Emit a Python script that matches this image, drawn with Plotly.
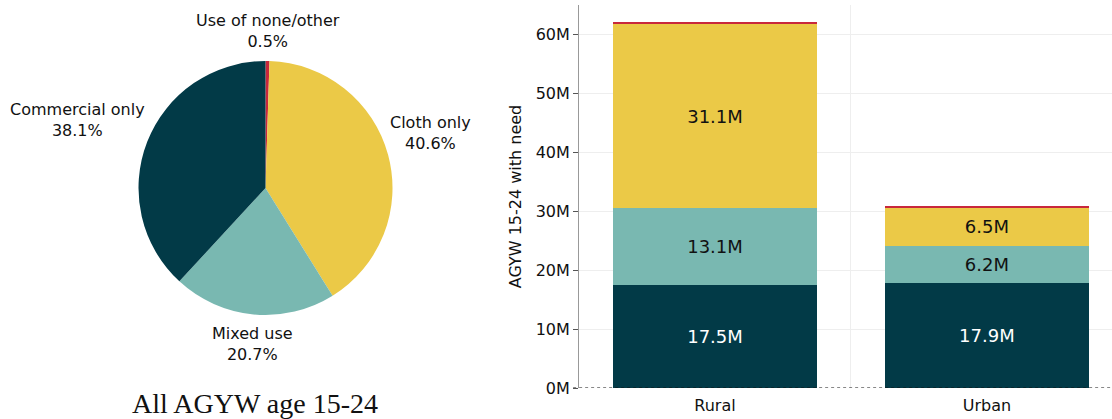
import math
import plotly.graph_objects as go

# Overall shares (%) of AGYW aged 15-24 by menstrual material used
pie_labels = ["Use of none/other", "Cloth only", "Mixed use", "Commercial only"]
pie_shares = [0.5, 40.6, 20.7, 38.1]

# AGYW aged 15-24 with need (millions), by residence
areas = ["Rural", "Urban"]
commercial_only = [17.5, 17.9]
mixed_use = [13.1, 6.2]
cloth_only = [31.1, 6.5]
none_other = [0.35, 0.3]

DARK = "#023a47"
TEAL = "#79b8b1"
YELLOW = "#ebc947"
RED = "#c8283c"
FONT = "DejaVu Sans, Verdana, sans-serif"
SERIF = "Liberation Serif, Times New Roman, serif"

W, H = 1112, 419
# pie geometry in pixels
PIE_CX, PIE_CY, PIE_R = 265.5, 188.0, 127.0

fig = go.Figure()

fig.add_trace(go.Pie(
    labels=pie_labels,
    values=pie_shares,
    sort=False,
    direction="clockwise",
    rotation=0,
    marker=dict(colors=[RED, YELLOW, TEAL, DARK], line=dict(width=0)),
    textinfo="none",
    showlegend=False,
    hoverinfo="label+value",
    domain=dict(x=[(PIE_CX - PIE_R) / W, (PIE_CX + PIE_R) / W],
                y=[1 - (PIE_CY + PIE_R) / H, 1 - (PIE_CY - PIE_R) / H]),
))

# Slice labels placed just outside the rim, along each slice's mid-angle
annotations = []
total = sum(pie_shares)
cum = 0.0
for lab, v in zip(pie_labels, pie_shares):
    mid = (cum + v / 2) / total * 2 * math.pi
    cum += v
    dx, dy = math.sin(mid), -math.cos(mid)  # screen direction (y down)
    gap = -1 + 9 * dy * dy
    px = PIE_CX + dx * (PIE_R + gap)
    py = PIE_CY + dy * (PIE_R + gap)
    xanchor = "left" if dx > 0.5 else ("right" if dx < -0.5 else "center")
    yanchor = "top" if dy > 0.5 else "bottom"
    annotations.append(dict(
        text=f"{lab}<br>{v / total * 100:.1f}%",
        x=px / W, y=1 - py / H, xref="paper", yref="paper",
        xanchor=xanchor, yanchor=yanchor, align="center", showarrow=False,
        font=dict(family=FONT, size=16, color="#111111"),
    ))

annotations.append(dict(
    text="All AGYW age 15-24", x=254.5 / W, y=1 - 403 / H, xref="paper", yref="paper",
    xanchor="center", yanchor="middle", showarrow=False,
    font=dict(family=SERIF, size=28, color="#111111"),
))

bar_series = [
    ("Commercial only", commercial_only, DARK, "white", True),
    ("Mixed use", mixed_use, TEAL, "#111111", True),
    ("Cloth only", cloth_only, YELLOW, "#111111", True),
    ("Use of none/other", none_other, RED, "#111111", False),
]
for name, vals, color, tcolor, show_text in bar_series:
    fig.add_trace(go.Bar(
        x=areas,
        y=vals,
        name=name,
        marker=dict(color=color, line=dict(width=0)),
        text=[f"{v:.1f}M" for v in vals] if show_text else None,
        textposition="inside" if show_text else "none",
        insidetextanchor="middle",
        textfont=dict(family=FONT, size=18, color=tcolor),
        showlegend=False,
        xaxis="x",
        yaxis="y",
    ))

fig.update_layout(
    width=W,
    height=H,
    margin=dict(l=0, r=0, t=0, b=0, autoexpand=False),
    paper_bgcolor="white",
    plot_bgcolor="white",
    barmode="stack",
    bargap=0.25,
    font=dict(family=FONT, size=16, color="#111111"),
    uniformtext=dict(mode=False),
    xaxis=dict(
        domain=[579 / W, 1.0],
        range=[-0.5, 1.46],
        tickson="boundaries",
        showgrid=True,
        gridcolor="#eeeeee",
        gridwidth=1,
        ticks="",
        showline=False,
        automargin=False,
        ticklabelstandoff=6,
        tickfont=dict(family=FONT, size=16, color="#111111"),
        anchor="y",
    ),
    yaxis=dict(
        domain=[1 - 388 / H, 1 - 5 / H],
        range=[0, 65],
        tick0=0,
        dtick=10,
        ticksuffix="M",
        showgrid=True,
        gridcolor="#eeeeee",
        gridwidth=1,
        zeroline=False,
        showline=True,
        linecolor="#999999",
        linewidth=1,
        ticks="outside",
        ticklen=5,
        tickcolor="#555555",
        automargin=False,
        tickfont=dict(family=FONT, size=16, color="#111111"),
        title=dict(text="AGYW 15-24 with need", font=dict(family=FONT, size=16, color="#111111"), standoff=10),
        anchor="x",
    ),
    shapes=[
        dict(type="line", xref="x domain", yref="y", x0=-0.011, x1=1.0, y0=0, y1=0,
             line=dict(color="#111111", width=1, dash="dot"), layer="above"),
    ],
    annotations=annotations,
)

fig.write_html("out.html")
